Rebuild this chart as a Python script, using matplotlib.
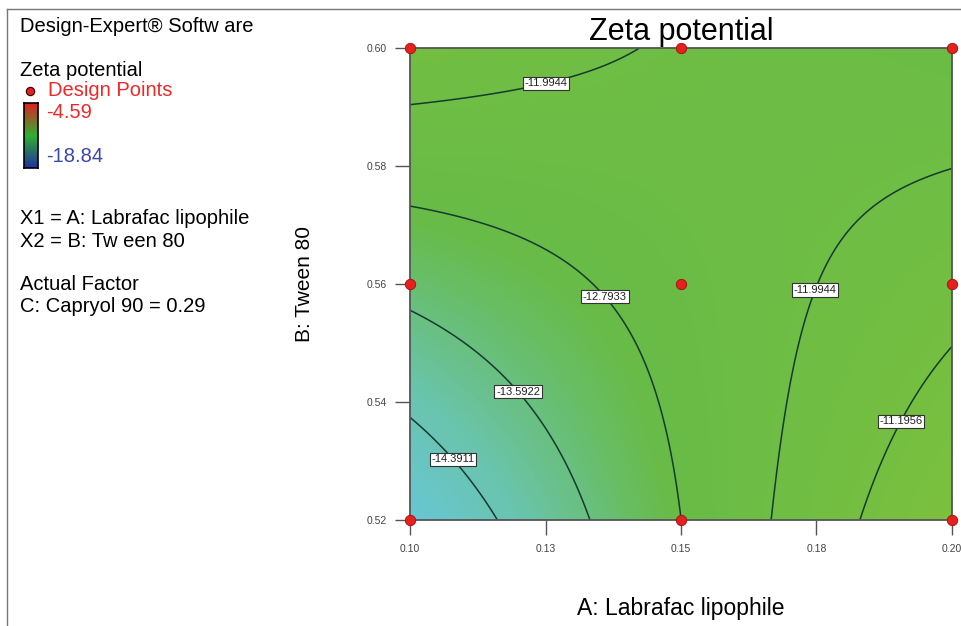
#!/usr/bin/env python3
"""Response surface contour: zeta potential vs Labrafac lipophile and Tween 80."""

import numpy as np
import matplotlib
matplotlib.use("Agg")
import matplotlib.pyplot as plt
from matplotlib.colors import LinearSegmentedColormap, Normalize
from matplotlib.lines import Line2D

plt.rcParams["font.family"] = ["Liberation Sans", "DejaVu Sans"]

# Factor ranges (actual units)
A_RANGE = [0.10, 0.20]   # Labrafac lipophile
B_RANGE = [0.52, 0.60]   # Tween 80
CAPRYOL = 0.29           # held constant

# Quadratic model in coded units: b0, A, B, AB, A^2, B^2
B0, B_A, B_B, B_AB, B_AA, B_BB = -12.488, 0.955, 0.363, -1.435, 0.05, 0.056

# Response range over the whole design
RESP_MIN, RESP_MAX = -18.84, -4.59

# Contour levels shown on the plot
LEVELS = [-14.3911, -13.5922, -12.7933, -11.9944, -11.1956]

# 3x3 design points
DESIGN_A = [0.10, 0.15, 0.20]
DESIGN_B = [0.52, 0.56, 0.60]

X_TICKS = [0.10, 0.125, 0.15, 0.175, 0.20]
X_TICKLABELS = ["0.10", "0.13", "0.15", "0.18", "0.20"]
Y_TICKS = [0.52, 0.54, 0.56, 0.58, 0.60]
Y_TICKLABELS = ["0.52", "0.54", "0.56", "0.58", "0.60"]

# label anchor spots (actual units)
LABEL_SPOTS = [(0.1087, 0.5309), (0.1199, 0.5417), (0.1350, 0.5571),
               (0.1249, 0.5946), (0.1725, 0.5598), (0.1900, 0.5370)]

W, H = 962, 626


def fx(px):
    return px / W


def fy(py):
    return 1 - py / H


def zeta(a, b):
    ca = (a - 0.15) / 0.05
    cb = (b - 0.56) / 0.04
    return (B0 + B_A * ca + B_B * cb + B_AB * ca * cb
            + B_AA * ca ** 2 + B_BB * cb ** 2)


fig = plt.figure(figsize=(W / 100, H / 100), dpi=100)

# thin frame along top and left
fig.add_artist(Line2D([fx(7), 1], [fy(9), fy(9)], color="#777777", lw=1))
fig.add_artist(Line2D([fx(7), fx(7)], [fy(9), 0], color="#777777", lw=1))

ax = fig.add_axes([fx(410), fy(520), fx(952) - fx(410), fy(48) - fy(520)])

aa, bb = np.meshgrid(np.linspace(*A_RANGE, 300), np.linspace(*B_RANGE, 300))
zz = zeta(aa, bb)

# fill palette (light Design-Expert style)
stops = [(-18.84, "#3A6FD8"), (-15.6, "#66C9E6"), (-14.2, "#6AC4AE"),
         (-12.9, "#68BB48"), (-10.0, "#7EC23C"), (-7.5, "#E0C030"),
         (-4.59, "#E03020")]
span = RESP_MAX - RESP_MIN
fill_cmap = LinearSegmentedColormap.from_list(
    "fill", [((v - RESP_MIN) / span, c) for v, c in stops])
norm = Normalize(RESP_MIN, RESP_MAX)

ax.imshow(zz, extent=[*A_RANGE, *B_RANGE], origin="lower", aspect="auto",
          cmap=fill_cmap, norm=norm, interpolation="bilinear")

cs = ax.contour(aa, bb, zz, levels=LEVELS, colors="#153A2E",
                linewidths=1.1, linestyles="solid")
labels = ax.clabel(cs, inline=False, fmt="%.4f", fontsize=8,
                   manual=LABEL_SPOTS, colors="#222222")
for t in labels:
    t.set_rotation(0)
    t.set_bbox(dict(facecolor="white", edgecolor="#333333", linewidth=0.8,
                    pad=1.2))

pa, pb = np.meshgrid(DESIGN_A, DESIGN_B)
ax.plot(pa.ravel(), pb.ravel(), "o", color="#E5201E", mec="#A01010",
        mew=0.6, ms=7.5, clip_on=False, zorder=5)

ax.set_xlim(*A_RANGE)
ax.set_ylim(*B_RANGE)
ax.set_xticks(X_TICKS)
ax.set_xticklabels(X_TICKLABELS)
ax.set_yticks(Y_TICKS)
ax.set_yticklabels(Y_TICKLABELS)
ax.tick_params(direction="out", length=11, width=1, color="#555555",
               pad=6, labelsize=7.5, labelcolor="#444444")
for s in ax.spines.values():
    s.set_color("#555555")
    s.set_linewidth(1.3)

fig.text(fx(681), fy(32), "Zeta potential", ha="center", va="center",
         fontsize=22)
fig.text(fx(681), fy(608), "A: Labrafac lipophile", ha="center",
         va="center", fontsize=16.5)
fig.text(fx(305), fy(284), "B: Tween 80", ha="center", va="center",
         rotation=90, fontsize=15)

# left-hand legend panel
fs = 14.5
fig.text(fx(20), fy(27), "Design-Expert® Softw are", va="center", fontsize=fs)
fig.text(fx(20), fy(70), "Zeta potential", va="center", fontsize=fs)
fig.add_artist(Line2D([fx(30)], [fy(91)], marker="o", color="#E5201E",
                      mec="#300000", mew=0.8, ms=6))
fig.text(fx(48), fy(91), "Design Points", va="center", fontsize=fs,
         color="#F02828")
fig.text(fx(46), fy(113), f"{RESP_MAX:.2f}", va="center", fontsize=fs,
         color="#F02828")
fig.text(fx(46), fy(157), f"{RESP_MIN:.2f}", va="center", fontsize=fs,
         color="#3A48B0")

cax = fig.add_axes([fx(24), fy(168), fx(14), fy(103) - fy(168)])
bar_cmap = LinearSegmentedColormap.from_list(
    "bar", ["#2030A0", "#30B030", "#E02020"])
ramp = np.linspace(RESP_MIN, RESP_MAX, 100).reshape(-1, 1)
cax.imshow(ramp, origin="lower", aspect="auto", cmap=bar_cmap)
cax.set_xticks([])
cax.set_yticks([])
for s in cax.spines.values():
    s.set_linewidth(1.2)

fig.text(fx(20), fy(219), "X1 = A: Labrafac lipophile", va="center",
         fontsize=fs)
fig.text(fx(20), fy(241), "X2 = B: Tw een 80", va="center", fontsize=fs)
fig.text(fx(20), fy(284), "Actual Factor", va="center", fontsize=fs)
fig.text(fx(20), fy(306), f"C: Capryol 90 = {CAPRYOL:.2f}", va="center",
         fontsize=fs)

fig.savefig("out.png", dpi=100)
